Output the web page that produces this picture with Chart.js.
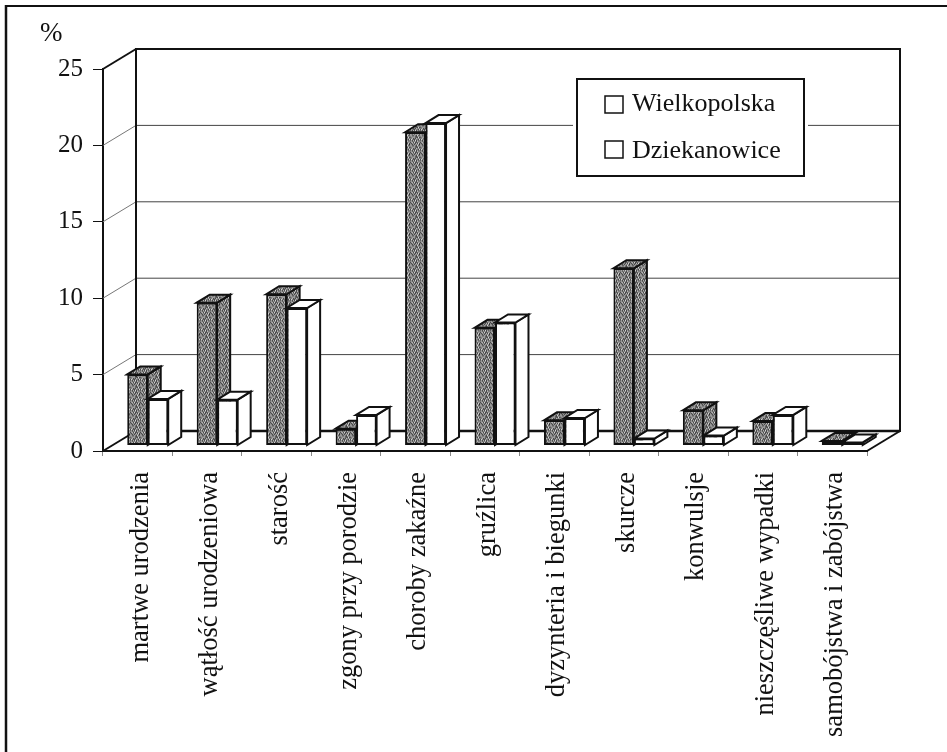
<!DOCTYPE html>
<html lang="pl">
<head>
<meta charset="utf-8">
<title>Przyczyny zgonów</title>
<style>html,body{margin:0;padding:0;background:#fff}canvas{display:block}</style>
<script src="https://cdn.jsdelivr.net/npm/chart.js@4/dist/chart.umd.min.js"></script>
</head>
<body>
<canvas id="c" width="947" height="752"></canvas>
<script>
const categories = ["martwe urodzenia","wątłość urodzeniowa","starość","zgony przy porodzie","choroby zakaźne","gruźlica","dyzynteria i biegunki","skurcze","konwulsje","nieszczęśliwe wypadki","samobójstwa i zabójstwa"];
const wielkopolska = [4.65,9.35,9.9,1.1,20.5,7.7,1.65,11.6,2.3,1.6,0.3];
const dziekanowice = [3.05,3.0,9.0,2.0,21.1,8.05,1.8,0.45,0.65,2.0,0.2];
const seriesNames = ["Wielkopolska","Dziekanowice"];
const yTicks = [0,5,10,15,20,25];
const axisUnit = "%";

const SERIF = '"Liberation Serif","Times New Roman",serif';
const INK = '#111';
const WALL = {dx:33, dy:20};
const BAR_SHIFT = {dx:10, dy:5.5};
const BAR_DEPTH = {dx:13, dy:8};

// stipple texture for the scanned dark-grey fill
const tile = [
 "1302130310","3120301312","0313120031","2031302130","1320013213",
 "0312130103","2103031320","1320310213","0131302031","3012013130"];
const shades = ['#2e2e2e','#636363','#979797','#d2d2d2'];
function makeStipple(){
  const t=document.createElement('canvas');t.width=t.height=10;
  const g=t.getContext('2d');
  tile.forEach((row,y)=>[...row].forEach((ch,x)=>{g.fillStyle=shades[+ch];g.fillRect(x,y,1,1);}));
  return g.createPattern(t,'repeat');
}
const stipple = makeStipple();

function poly(ctx,pts,fill,stroke,lw){
  ctx.beginPath();pts.forEach((p,i)=>i?ctx.lineTo(p[0],p[1]):ctx.moveTo(p[0],p[1]));ctx.closePath();
  if(fill){ctx.fillStyle=fill;ctx.fill();}
  if(stroke){ctx.strokeStyle=stroke;ctx.lineWidth=lw;ctx.lineJoin='miter';ctx.stroke();}
}
function seg(ctx,x1,y1,x2,y2,color,lw){
  ctx.beginPath();ctx.moveTo(x1,y1);ctx.lineTo(x2,y2);ctx.strokeStyle=color;ctx.lineWidth=lw;ctx.stroke();
}

const scene3d = {
  id:'scene3d',
  beforeDraw(chart){
    const ctx=chart.ctx;
    ctx.save();
    ctx.fillStyle='#fff';ctx.fillRect(0,0,chart.width,chart.height);
    // page frame, open to the right and bottom
    seg(ctx,6,6,947,6,INK,2);
    seg(ctx,6,5,6,752,INK,2.5);
    ctx.restore();
  },
  beforeDatasetsDraw(chart){
    const ctx=chart.ctx,a=chart.chartArea,y=chart.scales.y,d=WALL;
    ctx.save();
    // back wall gridlines
    yTicks.slice(1,-1).forEach(v=>{
      const p=y.getPixelForValue(v);
      seg(ctx,a.left+d.dx,p-d.dy,a.right+d.dx,p-d.dy,'#444',1);
      seg(ctx,a.left,p,a.left+d.dx,p-d.dy,'#777',1);
    });
    // back wall, side wall, floor
    ctx.strokeStyle=INK;ctx.lineWidth=2;
    ctx.strokeRect(a.left+d.dx,a.top-d.dy,a.right-a.left,a.bottom-a.top);
    seg(ctx,a.left+d.dx,a.bottom-d.dy,a.right+d.dx,a.bottom-d.dy,INK,2.5);
    seg(ctx,a.left,a.top,a.left+d.dx,a.top-d.dy,INK,2);
    seg(ctx,a.left,a.bottom,a.left+d.dx,a.bottom-d.dy,INK,2);
    seg(ctx,a.right,a.bottom,a.right+d.dx,a.bottom-d.dy,INK,2);
    // bars: left series first, then right series over it, each with its 3D faces
    ctx.translate(BAR_SHIFT.dx,-BAR_SHIFT.dy);
    [0,1].forEach(i=>{
      const meta=chart.getDatasetMeta(i),ds=chart.data.datasets[i],k=BAR_DEPTH;
      meta.controller.draw();
      meta.data.forEach(bar=>{
        const p=bar.getProps(['x','y','base','width'],true);
        const x0=p.x-p.width/2,x1=p.x+p.width/2,t=p.y,b=p.base;
        poly(ctx,[[x1,t],[x1+k.dx,t-k.dy],[x1+k.dx,b-k.dy],[x1,b]],ds.backgroundColor,INK,2);
        poly(ctx,[[x0,t],[x0+k.dx,t-k.dy],[x1+k.dx,t-k.dy],[x1,t]],ds.backgroundColor,INK,2);
      });
    });
    ctx.restore();
  },
  beforeDatasetDraw(){ return false; },
  afterDatasetsDraw(chart){
    const ctx=chart.ctx;
    ctx.save();
    // legend box
    const bx=577,by=79,bw=227,bh=97;
    ctx.fillStyle='#fff';ctx.fillRect(bx-4,by-4,bw+8,bh+8);
    ctx.strokeStyle=INK;ctx.lineWidth=2;ctx.strokeRect(bx,by,bw,bh);
    ctx.font='26px '+SERIF;ctx.textBaseline='alphabetic';ctx.textAlign='left';
    seriesNames.forEach((name,i)=>{
      const top=i===0?96:141;
      ctx.fillStyle='#fff';ctx.fillRect(605,top,18,17);
      ctx.lineWidth=1.5;ctx.strokeStyle=INK;ctx.strokeRect(605,top,18,17);
      ctx.fillStyle=INK;ctx.fillText(name,632,i===0?111:158);
    });
    // unit
    ctx.font='27px '+SERIF;ctx.fillStyle=INK;ctx.fillText(axisUnit,40,41);
    ctx.restore();
  }
};

new Chart(document.getElementById('c'),{
  type:'bar',
  data:{
    labels:categories,
    datasets:[
      {label:seriesNames[0],data:wielkopolska,backgroundColor:stipple,borderColor:INK,borderWidth:2,borderSkipped:false},
      {label:seriesNames[1],data:dziekanowice,backgroundColor:'#ffffff',borderColor:INK,borderWidth:2,borderSkipped:false}
    ]
  },
  options:{
    responsive:false,
    animation:false,
    events:[],
    devicePixelRatio:1,
    layout:{padding:{top:69,right:80,left:0,bottom:0},autoPadding:false},
    plugins:{legend:{display:false},tooltip:{enabled:false},title:{display:false}},
    datasets:{bar:{categoryPercentage:0.59,barPercentage:1}},
    scales:{
      x:{
        type:'category',
        offset:true,
        afterFit(s){s.height=301;},
        grid:{display:true,drawOnChartArea:false,drawTicks:true,tickLength:5,tickColor:'#888',tickWidth:1,offset:true},
        border:{display:true,color:INK,width:2},
        ticks:{autoSkip:false,minRotation:90,maxRotation:90,padding:16,labelOffset:3,color:INK,font:{family:SERIF,size:26.5}}
      },
      y:{
        type:'linear',
        min:0,max:25,
        afterFit(s){s.width=103;},
        afterBuildTicks(s){s.ticks=yTicks.map(v=>({value:v}));},
        grid:{display:true,drawOnChartArea:false,drawTicks:true,tickLength:10,tickColor:INK,tickWidth:1},
        border:{display:true,color:INK,width:2},
        ticks:{padding:10,color:INK,font:{family:SERIF,size:25}}
      }
    }
  },
  plugins:[scene3d]
});
</script>
</body>
</html>
